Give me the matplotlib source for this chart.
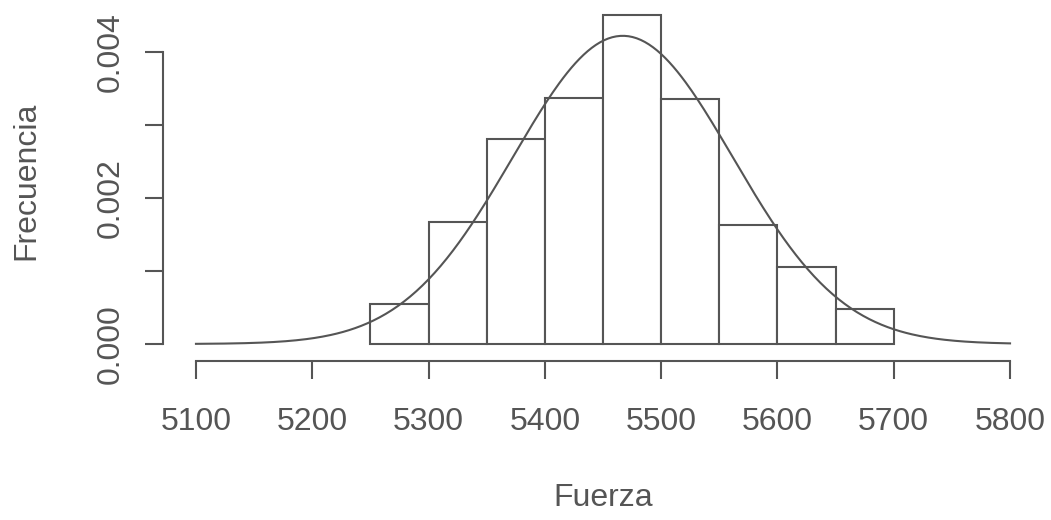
import numpy as np
import matplotlib.pyplot as plt

plt.rcParams["font.family"] = ["Liberation Sans", "DejaVu Sans"]

# histogram (density scale), bins of width 50
bin_left = [5250, 5300, 5350, 5400, 5450, 5500, 5550, 5600, 5650]
density = [0.00055, 0.00167, 0.00281, 0.00337, 0.00451, 0.00336, 0.00163, 0.00105, 0.00048]
bin_width = 50

# fitted normal curve parameters
mu = 5467
sigma = 94.5

x_ticks = [5100, 5200, 5300, 5400, 5500, 5600, 5700, 5800]
y_ticks = [0.000, 0.001, 0.002, 0.003, 0.004]
y_ticklabels = ["0.000", "", "0.002", "", "0.004"]

ink = "#555555"

fig = plt.figure(figsize=(10.51, 5.20), dpi=100)
ax = fig.add_axes([163.4 / 1051, 159 / 520, 879.2 / 1051, 361 / 520])

ax.bar(bin_left, density, width=bin_width, align="edge",
       facecolor="white", edgecolor=ink, linewidth=1.5)

xs = np.linspace(5100, 5800, 400)
ax.plot(xs, np.exp(-0.5 * ((xs - mu) / sigma) ** 2) / (sigma * np.sqrt(2 * np.pi)),
        color=ink, linewidth=1.5)

ax.set_xlim(5072, 5828)
ax.set_ylim(-17 / 73000, 344 / 73000)

for s in ["top", "right"]:
    ax.spines[s].set_visible(False)
for s in ["left", "bottom"]:
    ax.spines[s].set_color(ink)
    ax.spines[s].set_linewidth(1.5)
ax.spines["left"].set_bounds(0, 0.004)
ax.spines["bottom"].set_bounds(5100, 5800)

ax.set_xticks(x_ticks, labels=[str(t) for t in x_ticks])
ax.set_yticks(y_ticks, labels=y_ticklabels)
ax.tick_params(axis="both", colors=ink, labelcolor=ink, length=13, width=1.5,
               labelsize=23)
ax.tick_params(axis="x", pad=20)
ax.tick_params(axis="y", pad=14)
for lbl in ax.get_yticklabels():
    lbl.set_rotation(90)
    lbl.set_va("center")

ax.set_xlabel("Fuerza", fontsize=23, color=ink, labelpad=33)
ax.set_ylabel("Frecuencia", fontsize=23, color=ink, labelpad=39)

fig.savefig("out.png", dpi=100, facecolor="white")
